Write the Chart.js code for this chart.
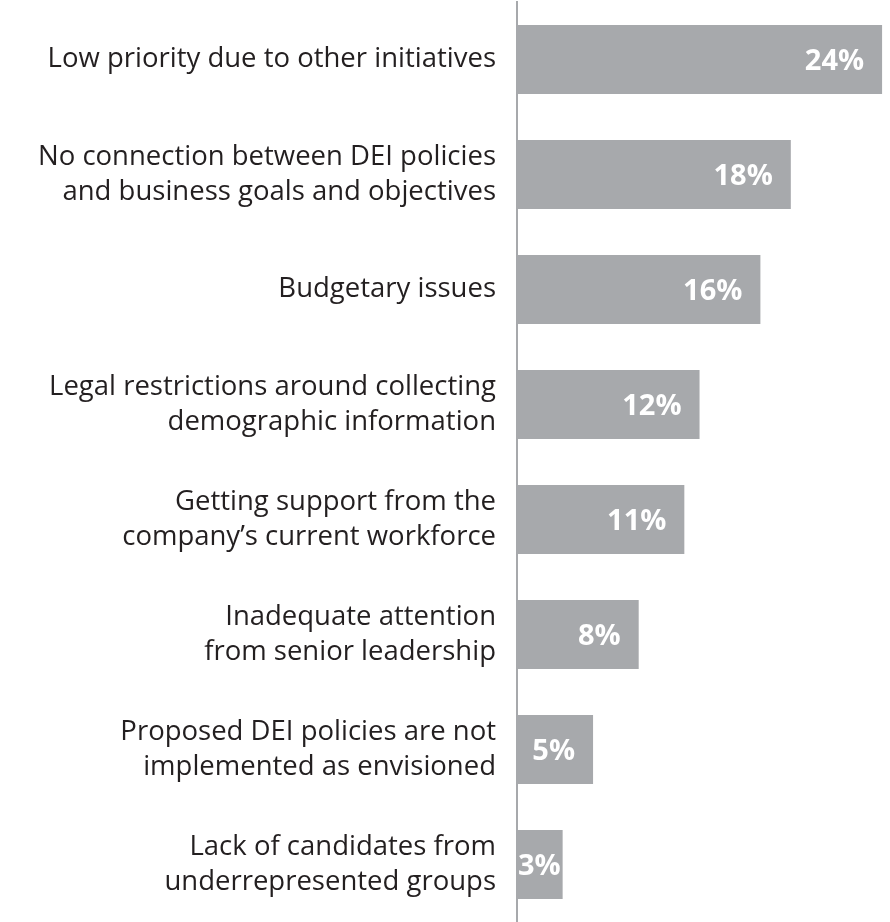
<!DOCTYPE html>
<html>
<head>
<meta charset="utf-8">
<script src="https://cdn.jsdelivr.net/npm/chart.js@4/dist/chart.umd.min.js"></script>
<style>
  html, body { margin: 0; padding: 0; background: #ffffff; }
  #wrap { width: 890px; height: 922px; }
</style>
</head>
<body>
<div id="wrap"><canvas id="chartBarreras"></canvas></div>
<script>
const categorias = [
    ['Low priority due to other initiatives'],
    ['No connection between DEI policies', 'and business goals and objectives'],
    ['Budgetary issues'],
    ['Legal restrictions around collecting', 'demographic information'],
    ['Getting support from the', 'company\u2019s current workforce'],
    ['Inadequate attention', 'from senior leadership'],
    ['Proposed DEI policies are not', 'implemented as envisioned'],
    ['Lack of candidates from', 'underrepresented groups']
]
const porcentajes = [24, 18, 16, 12, 11, 8, 5, 3]

const GRIS = '#a7a9ac'
const FUENTE = "'Open Sans', 'DejaVu Sans', sans-serif"

// etiquetas blancas al final de cada barra
const etiquetasValor = {
    id: 'etiquetasValor',
    afterDatasetsDraw(chart) {
        const ctx = chart.ctx
        const meta = chart.getDatasetMeta(0)
        ctx.save()
        ctx.font = `bold 29px ${FUENTE}`
        ctx.fillStyle = '#ffffff'
        ctx.textBaseline = 'middle'
        ctx.textAlign = 'left'
        meta.data.forEach((barra, i) => {
            const texto = porcentajes[i] + '%'
            const ancho = ctx.measureText(texto).width
            let x = barra.x - 18 - ancho
            if (x < barra.base + 1) x = barra.base + 1
            ctx.fillText(texto, x, barra.y + 2)
        })
        ctx.restore()
    }
}

const context = document.getElementById('chartBarreras').getContext('2d')

const chartBarreras = new Chart(context, {
    type: 'bar',
    data: {
        labels: categorias,
        datasets: [
            {
                label: 'Barreras',
                data: porcentajes,
                backgroundColor: GRIS,
                borderWidth: 0,
                categoryPercentage: 0.6,
                barPercentage: 1
            }
        ]
    },
    options: {
        indexAxis: 'y',
        responsive: true,
        maintainAspectRatio: false,
        animation: false,
        layout: { padding: { top: 2, right: 0, bottom: 0, left: 0 } },
        plugins: {
            legend: { display: false },
            tooltip: { enabled: false }
        },
        scales: {
            x: {
                display: false,
                min: 0,
                max: 24.52
            },
            y: {
                afterFit: (scale) => {
                    scale.width = 517
                    scale.paddingTop = 0
                    scale.paddingBottom = 0
                },
                grid: { display: false, drawTicks: false },
                border: { display: true, color: GRIS, width: 2 },
                ticks: {
                    padding: 21,
                    color: '#231f20',
                    font: { family: FUENTE, size: 27.5, lineHeight: 1.27 }
                }
            }
        }
    },
    plugins: [etiquetasValor]
})
</script>
</body>
</html>
